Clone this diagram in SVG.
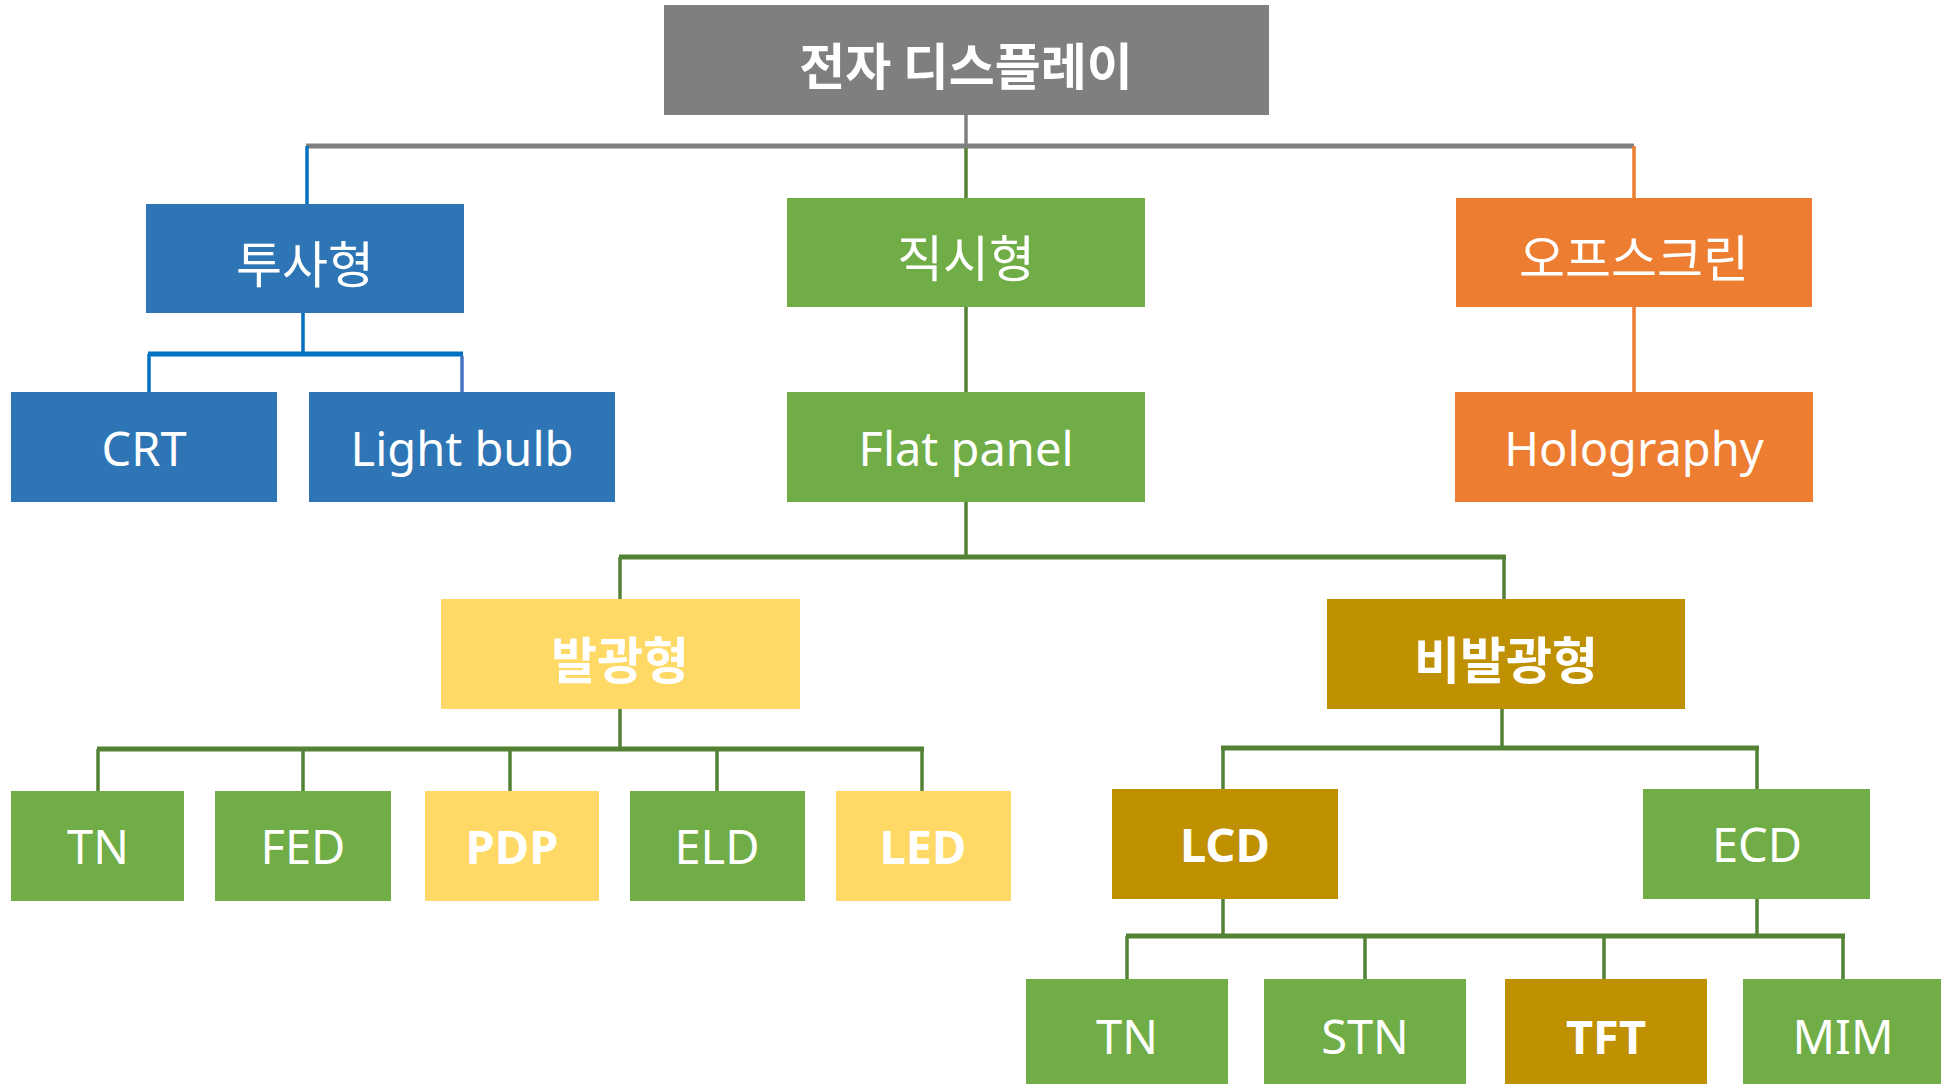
<svg xmlns="http://www.w3.org/2000/svg" width="1941" height="1084" viewBox="0 0 1941 1084">
  <style>
    .gray { fill: #7f7f7f; }
    .blue { fill: #2e75b6; }
    .green { fill: #70ad47; }
    .orange { fill: #ed7d31; }
    .yellow { fill: #ffd966; }
    .gold { fill: #bf9000; }
    text { fill: #ffffff; font-family: "Noto Sans", "Noto Sans CJK KR", sans-serif; font-size: 47px; text-anchor: middle; dominant-baseline: central; }
    text.ko { font-family: "Noto Sans CJK KR", sans-serif; font-size: 50px; }
    .b { font-weight: bold; }
    .ln { fill: none; stroke-width: 3.5; }
    .bar { fill: none; stroke-width: 5; }
    .c-gray { stroke: #808080; }
    .c-blue { stroke: #0070c0; }
    .c-blue2 { stroke: #4472c4; }
    .c-green { stroke: #548235; }
    .c-orange { stroke: #ed7d31; }
  </style>

  <!-- connectors -->
  <g id="connectors">
    <path class="ln c-gray" d="M966 114 V146"/>
    <path class="bar c-gray" d="M306 146 H1634"/>
    <path class="ln c-blue" d="M307 146 V204"/>
    <path class="ln c-green" d="M966 148 V198"/>
    <path class="ln c-orange" d="M1634 146 V198"/>

    <path class="ln c-blue" d="M303 313 V354"/>
    <path class="bar c-blue" d="M148 354 H463"/>
    <path class="ln c-blue" d="M149 354 V392"/>
    <path class="ln c-blue2" d="M462 356 V392"/>

    <path class="ln c-green" d="M966 307 V392"/>
    <path class="ln c-orange" d="M1634 307 V392"/>

    <path class="ln c-green" d="M966 502 V557"/>
    <path class="bar c-green" d="M619 557 H1506"/>
    <path class="ln c-green" d="M620 557 V599"/>
    <path class="ln c-green" d="M1504 557 V599"/>

    <path class="ln c-green" d="M620 709 V749"/>
    <path class="bar c-green" d="M97 749 H924"/>
    <path class="ln c-green" d="M98 749 V791 M303 749 V791 M510 749 V791 M717 749 V791 M922 749 V791"/>

    <path class="ln c-green" d="M1502 709 V748"/>
    <path class="bar c-green" d="M1221 748 H1759"/>
    <path class="ln c-green" d="M1223 748 V789 M1757 748 V789"/>

    <path class="ln c-green" d="M1223 899 V936 M1757 899 V936"/>
    <path class="bar c-green" d="M1126 936 H1845"/>
    <path class="ln c-green" d="M1127 936 V979 M1365 936 V979 M1604 936 V979 M1843 936 V979"/>
  </g>

  <!-- level 0 -->
  <g id="n-root">
    <rect class="gray" x="664" y="5" width="605" height="110"/>
    <text class="ko b" x="966" y="63">전자 디스플레이</text>
  </g>

  <!-- level 1 -->
  <g id="n-projection">
    <rect class="blue" x="146" y="204" width="318" height="109"/>
    <text class="ko" x="305" y="261">투사형</text>
  </g>
  <g id="n-direct">
    <rect class="green" x="787" y="198" width="358" height="109"/>
    <text class="ko" x="966" y="255">직시형</text>
  </g>
  <g id="n-offscreen">
    <rect class="orange" x="1456" y="198" width="356" height="109"/>
    <text class="ko" x="1634" y="255">오프스크린</text>
  </g>

  <!-- level 2 -->
  <g id="n-crt">
    <rect class="blue" x="11" y="392" width="266" height="110"/>
    <text x="144" y="448">CRT</text>
  </g>
  <g id="n-lightbulb">
    <rect class="blue" x="309" y="392" width="306" height="110"/>
    <text x="462" y="448">Light bulb</text>
  </g>
  <g id="n-flatpanel">
    <rect class="green" x="787" y="392" width="358" height="110"/>
    <text x="966" y="448">Flat panel</text>
  </g>
  <g id="n-holography">
    <rect class="orange" x="1455" y="392" width="358" height="110"/>
    <text x="1634" y="448">Holography</text>
  </g>

  <!-- level 3 -->
  <g id="n-emissive">
    <rect class="yellow" x="441" y="599" width="359" height="110"/>
    <text class="ko b" x="620" y="657">발광형</text>
  </g>
  <g id="n-nonemissive">
    <rect class="gold" x="1327" y="599" width="358" height="110"/>
    <text class="ko b" x="1506" y="657">비발광형</text>
  </g>

  <!-- level 4 -->
  <g id="n-tn1">
    <rect class="green" x="11" y="791" width="173" height="110"/>
    <text x="98" y="846">TN</text>
  </g>
  <g id="n-fed">
    <rect class="green" x="215" y="791" width="176" height="110"/>
    <text x="303" y="846">FED</text>
  </g>
  <g id="n-pdp">
    <rect class="yellow" x="425" y="791" width="174" height="110"/>
    <text class="b" x="512" y="846">PDP</text>
  </g>
  <g id="n-eld">
    <rect class="green" x="630" y="791" width="175" height="110"/>
    <text x="717" y="846">ELD</text>
  </g>
  <g id="n-led">
    <rect class="yellow" x="836" y="791" width="175" height="110"/>
    <text class="b" x="923" y="846">LED</text>
  </g>
  <g id="n-lcd">
    <rect class="gold" x="1112" y="789" width="226" height="110"/>
    <text class="b" x="1225" y="844">LCD</text>
  </g>
  <g id="n-ecd">
    <rect class="green" x="1643" y="789" width="227" height="110"/>
    <text x="1757" y="844">ECD</text>
  </g>

  <!-- level 5 -->
  <g id="n-tn2">
    <rect class="green" x="1026" y="979" width="202" height="110"/>
    <text x="1127" y="1036">TN</text>
  </g>
  <g id="n-stn">
    <rect class="green" x="1264" y="979" width="202" height="110"/>
    <text x="1365" y="1036">STN</text>
  </g>
  <g id="n-tft">
    <rect class="gold" x="1505" y="979" width="202" height="110"/>
    <text class="b" x="1606" y="1036">TFT</text>
  </g>
  <g id="n-mim">
    <rect class="green" x="1743" y="979" width="200" height="110"/>
    <text x="1843" y="1036">MIM</text>
  </g>
</svg>
